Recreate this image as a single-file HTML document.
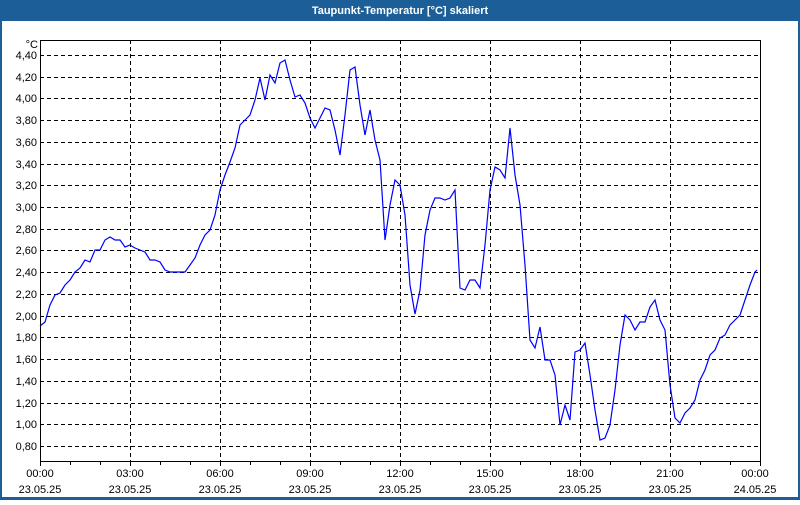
<!DOCTYPE html>
<html><head><meta charset="utf-8"><style>
body{margin:0;width:800px;height:500px;overflow:hidden;background:#fff;font-family:"Liberation Sans",sans-serif}
</style></head><body>
<svg width="800" height="500" xmlns="http://www.w3.org/2000/svg" font-family="Liberation Sans, sans-serif" font-size="11">
<rect x="0" y="0" width="800" height="500" fill="#1c5f98"/>
<rect x="2" y="21" width="796" height="476" fill="#fff"/>
<text x="400" y="14" fill="#fff" font-weight="bold" text-anchor="middle">Taupunkt-Temperatur [°C] skaliert</text>
<g stroke="#000" stroke-width="1" stroke-dasharray="4,3" fill="none">
<path d="M40 55.5H760M40 77.5H760M40 98.5H760M40 120.5H760M40 142.5H760M40 164.5H760M40 185.5H760M40 207.5H760M40 229.5H760M40 250.5H760M40 272.5H760M40 294.5H760M40 316.5H760M40 337.5H760M40 359.5H760M40 381.5H760M40 403.5H760M40 424.5H760M40 446.5H760"/>
<path d="M130.5 40V461M220.5 40V461M310.5 40V461M400.5 40V461M490.5 40V461M580.5 40V461M670.5 40V461"/>
</g>
<rect x="40.5" y="40.5" width="720" height="421" fill="none" stroke="#000"/>
<g stroke="#000"><path d="M40.5 461V466M70.5 461V465M100.5 461V465M130.5 461V466M160.5 461V465M190.5 461V465M220.5 461V466M250.5 461V465M280.5 461V465M310.5 461V466M340.5 461V465M370.5 461V465M400.5 461V466M430.5 461V465M460.5 461V465M490.5 461V466M520.5 461V465M550.5 461V465M580.5 461V466M610.5 461V465M640.5 461V465M670.5 461V466M700.5 461V465M730.5 461V465M760.5 461V466"/></g>
<g text-anchor="end" fill="#000">
<text x="38" y="48">°C</text>
<text x="37" y="59">4,40</text><text x="37" y="81">4,20</text><text x="37" y="102">4,00</text><text x="37" y="124">3,80</text><text x="37" y="146">3,60</text><text x="37" y="168">3,40</text><text x="37" y="189">3,20</text><text x="37" y="211">3,00</text><text x="37" y="233">2,80</text><text x="37" y="254">2,60</text><text x="37" y="276">2,40</text><text x="37" y="298">2,20</text><text x="37" y="320">2,00</text><text x="37" y="341">1,80</text><text x="37" y="363">1,60</text><text x="37" y="385">1,40</text><text x="37" y="407">1,20</text><text x="37" y="428">1,00</text><text x="37" y="450">0,80</text>
</g>
<g text-anchor="middle" fill="#000">
<text x="40" y="477">00:00</text><text x="40" y="493">23.05.25</text>
<text x="130" y="477">03:00</text><text x="130" y="493">23.05.25</text>
<text x="220" y="477">06:00</text><text x="220" y="493">23.05.25</text>
<text x="310" y="477">09:00</text><text x="310" y="493">23.05.25</text>
<text x="400" y="477">12:00</text><text x="400" y="493">23.05.25</text>
<text x="490" y="477">15:00</text><text x="490" y="493">23.05.25</text>
<text x="580" y="477">18:00</text><text x="580" y="493">23.05.25</text>
<text x="670" y="477">21:00</text><text x="670" y="493">23.05.25</text>
<text x="755" y="477">00:00</text><text x="755" y="493">24.05.25</text>
</g>
<polyline fill="none" stroke="#0000ff" stroke-width="1.2" points="40,326 45,322 50,305 55,295 60,293 65,285 70,280 75,272 80,268 85,260 90,262 95,250 100,250 105,240 110,237 115,240 120,240 125,247 130,245 135,248 140,250 145,252 150,260 155,260 160,262 165,270 170,272 175,272 180,272 185,272 190,265 195,258 200,245 205,235 210,230 215,215 220,190 225,175 230,162 235,148 240,125 245,120 250,115 255,100 260,78 265,100 270,75 275,83 280,63 285,60 290,80 295,97 300,95 305,103 310,118 315,128 320,118 325,108 330,110 335,130 340,155 345,115 350,70 355,67 360,105 365,135 370,110 375,140 380,160 385,240 390,205 395,180 400,185 405,215 410,285 415,314 420,290 425,235 430,210 435,198 440,198 445,200 450,198 455,190 460,288 465,290 470,280 475,280 480,288 485,245 490,190 495,167 500,170 505,178 510,128 515,175 520,205 525,265 530,340 535,348 540,327 545,360 550,360 555,375 560,425 565,405 570,420 575,352 580,350 585,343 590,375 595,410 600,440 605,438 610,425 615,390 620,345 625,315 630,320 635,330 640,322 645,322 650,307 655,300 660,320 665,330 670,385 675,418 680,423 685,413 690,408 695,400 700,380 705,370 710,355 715,350 720,338 725,335 730,325 735,320 740,315 745,300 750,285 755,272 757,270"/>
</svg>
</body></html>
